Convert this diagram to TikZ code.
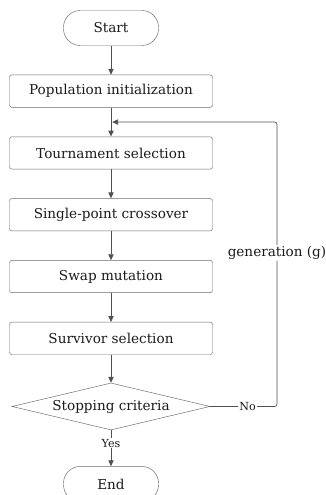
\documentclass[tikz,border=0pt]{standalone}
\usepackage{fontspec}
\setmainfont{DejaVu Serif}
\usepackage{xcolor}
\usepackage{tikz}
\usetikzlibrary{arrows.meta,positioning,shapes.geometric,calc}
\definecolor{linegray}{HTML}{505050}
\definecolor{boxgray}{HTML}{6A6A6A}
\definecolor{textgray}{HTML}{1A1A1A}

\begin{document}
\begin{tikzpicture}[
        font=\fontsize{11.6}{14}\selectfont,
        text=textgray,
        >={Triangle[length=5pt,width=4.5pt]},
        node distance=0.87cm,
        term/.style={rectangle,draw=boxgray,rounded corners=0.5cm,minimum width=2.85cm,minimum height=1.05cm,align=center},
        proc/.style={rectangle,draw=boxgray,rounded corners=2pt,minimum width=6.09cm,minimum height=0.97cm,align=center},
        decide/.style={diamond,draw=boxgray,aspect=4.2,inner sep=0pt,minimum width=5.94cm,minimum height=1.41cm,align=center},
        lbl/.style={fill=white,inner sep=1pt},
        small/.style={font=\fontsize{9.5}{11}\selectfont},
        arrow/.style={->,draw=linegray,semithick}
    ]
        \useasboundingbox (0,0) rectangle (9.75,-14.85);

        \node[term] (start) at (3.33,-0.84) {Start};
        \node[proc,below=of start] (init) {Population initialization};
        \node[proc,below=of init] (tourn) {Tournament selection};
        \node[proc,below=of tourn] (cross) {Single-point crossover};
        \node[proc,below=of cross] (mutate) {Swap mutation};
        \node[proc,below=of mutate] (survive) {Survivor selection};
        \node[decide,below=0.84cm of survive] (stop) {Stopping criteria};
        \node[term,below=1.08cm of stop] (finish) {End};

        \coordinate (join) at ($(init.south)!0.5!(tourn.north)$);
        \coordinate (corner) at (8.31,0 |- stop.east);

        \draw[arrow] (start) -- (init);
        \draw[arrow] (init) -- (tourn);
        \draw[arrow] (tourn) -- (cross);
        \draw[arrow] (cross) -- (mutate);
        \draw[arrow] (mutate) -- (survive);
        \draw[arrow] (survive) -- (stop);
        \draw[arrow] (stop) -- node[lbl,small,pos=0.36] {Yes} (finish);
        \draw[arrow,rounded corners=2pt] (stop.east) -- node[lbl,small,pos=0.56] {No} (corner)
            -- node[lbl,pos=0.54] {generation (g)} (corner |- join) -- ([xshift=1pt]join);
    \end{tikzpicture}
\end{document}
